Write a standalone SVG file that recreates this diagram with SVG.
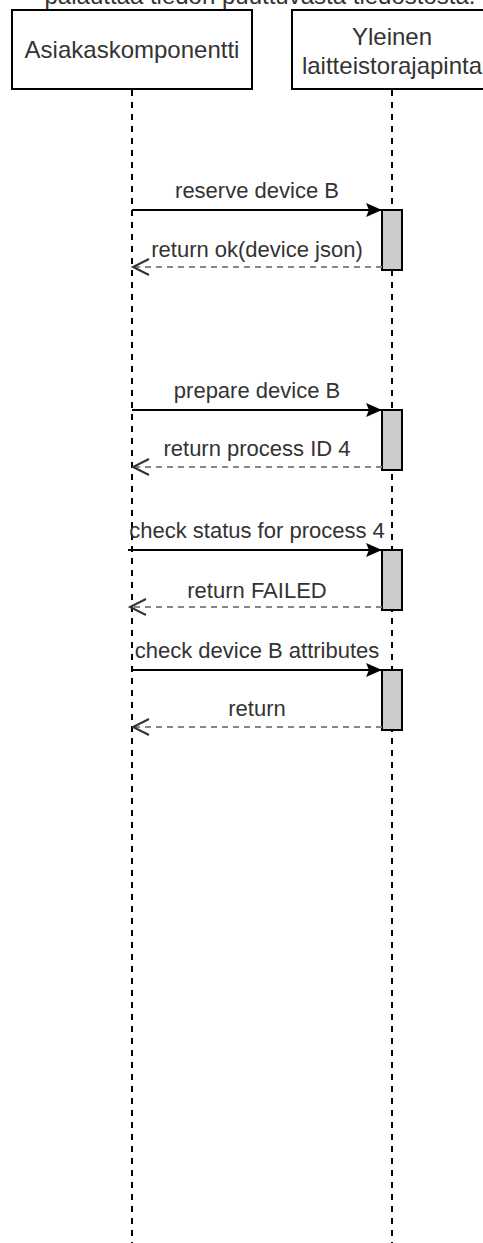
<svg xmlns="http://www.w3.org/2000/svg" width="483" height="1243" viewBox="0 0 483 1243">
<style>
.box{fill:#fff;stroke:#000;stroke-width:2}
.lbl{font-family:"Liberation Sans",Arial,sans-serif;font-size:24px;fill:#333;text-anchor:middle}
.msg{font-family:"Liberation Sans",Arial,sans-serif;font-size:22px;fill:#333;text-anchor:middle}
.life{stroke:#000;stroke-width:2;stroke-dasharray:6 6;fill:none}
.act{fill:#ccc;stroke:#000;stroke-width:2}
.call{stroke:#000;stroke-width:2;fill:none}
.ret{stroke:#888;stroke-width:2;stroke-dasharray:6 5;fill:none}
.open{stroke:#333;stroke-width:2;fill:none}
</style>
<defs>
<marker id="block" markerWidth="18" markerHeight="16" refX="16" refY="8" orient="auto" markerUnits="userSpaceOnUse">
<path d="M0,1 L16,8 L0,15 L3,8 Z" fill="#000"/>
</marker>
</defs>
<rect width="483" height="1243" fill="#fff"/>
<text class="lbl" x="260" y="4">palauttaa tiedon puuttuvasta tiedostosta.</text>
<g id="lifeline-asiakas">
<rect class="box" x="12" y="10" width="240" height="79"/>
<text class="lbl" x="132" y="58">Asiakaskomponentti</text>
<line class="life" x1="132" y1="90" x2="132" y2="1243"/>
</g>
<g id="lifeline-yleinen">
<rect class="box" x="292" y="10" width="200" height="79"/>
<text class="lbl" x="392" y="45">Yleinen</text>
<text class="lbl" x="392" y="74">laitteistorajapinta</text>
<line class="life" x1="392" y1="90" x2="392" y2="1243"/>
</g>
<g id="activations">
<rect class="act" x="382" y="210" width="20" height="60"/>
<rect class="act" x="382" y="410" width="20" height="60"/>
<rect class="act" x="382" y="550" width="20" height="60"/>
<rect class="act" x="382" y="670" width="20" height="60"/>
</g>
<g id="connectors">
<line class="call" x1="132" y1="210" x2="382" y2="210" marker-end="url(#block)"/>
<text class="msg" x="257" y="198">reserve device B</text>
<line class="ret" x1="382" y1="267" x2="133" y2="267"/>
<polyline class="open" points="149,259 133,267 149,275"/>
<text class="msg" x="257" y="257">return ok(device json)</text>

<line class="call" x1="132" y1="410" x2="382" y2="410" marker-end="url(#block)"/>
<text class="msg" x="257" y="398">prepare device B</text>
<line class="ret" x1="382" y1="467" x2="133" y2="467"/>
<polyline class="open" points="149,459 133,467 149,475"/>
<text class="msg" x="257" y="456">return process ID 4</text>

<line class="call" x1="128" y1="550" x2="382" y2="550" marker-end="url(#block)"/>
<text class="msg" x="257" y="538">check status for process 4</text>
<line class="ret" x1="382" y1="607" x2="130" y2="607"/>
<polyline class="open" points="146,599 130,607 146,615"/>
<text class="msg" x="257" y="598">return FAILED</text>

<line class="call" x1="132" y1="670" x2="382" y2="670" marker-end="url(#block)"/>
<text class="msg" x="257" y="658">check device B attributes</text>
<line class="ret" x1="382" y1="727" x2="133" y2="727"/>
<polyline class="open" points="149,719 133,727 149,735"/>
<text class="msg" x="257" y="716">return</text>
</g>
</svg>
